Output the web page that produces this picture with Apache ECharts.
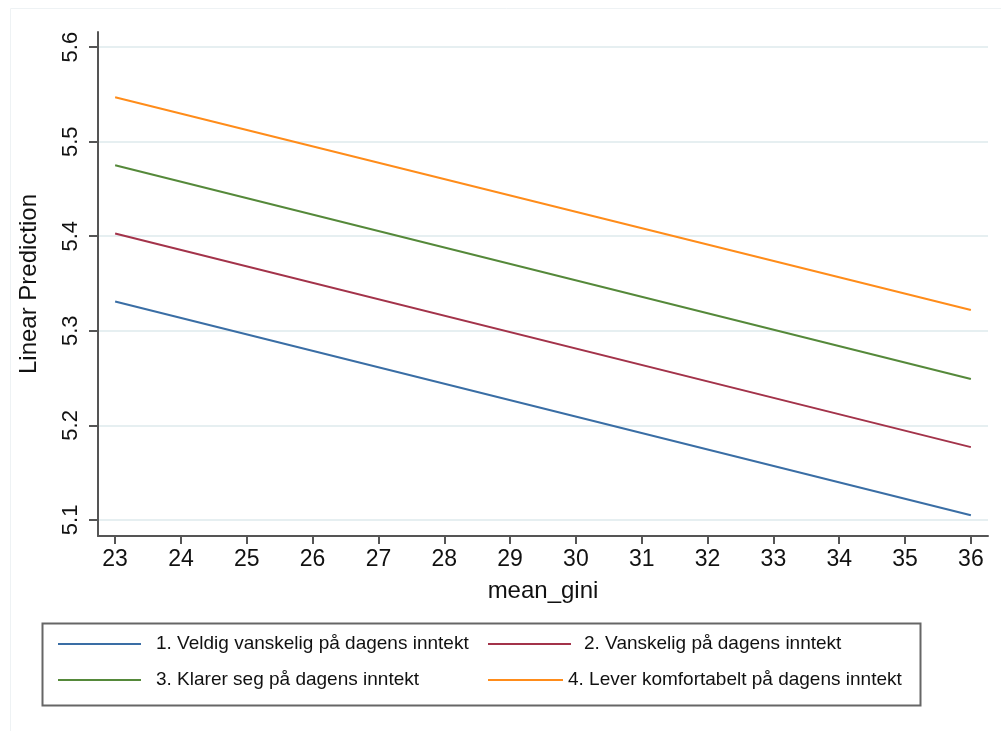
<!DOCTYPE html>
<html>
<head>
<meta charset="utf-8">
<script src="https://cdn.jsdelivr.net/npm/echarts@6/dist/echarts.min.js"></script>
<style>
html,body{margin:0;padding:0;background:#fff;}
#chart{width:1001px;height:731px;}
</style>
</head>
<body>
<div id="chart"></div>
<script>
const xValues = [23, 36];
const xTicks = [23,24,25,26,27,28,29,30,31,32,33,34,35,36];
const yTicks = [5.1,5.2,5.3,5.4,5.5,5.6];
const seriesNames = [
  '1. Veldig vanskelig på dagens inntekt',
  '2. Vanskelig på dagens inntekt',
  '3. Klarer seg på dagens inntekt',
  '4. Lever komfortabelt på dagens inntekt'
];
const veryDifficult = [5.331, 5.105];
const difficult = [5.403, 5.177];
const coping = [5.475, 5.249];
const comfortable = [5.547, 5.322];
const colors = ['#3a6ea5', '#a3334a', '#55893a', '#ff8c1a'];

const allValues = [veryDifficult, difficult, coping, comfortable];
const FONT = 'Liberation Sans';

const chart = echarts.init(document.getElementById('chart'));

function legendItem(idx, left, top, width, pad) {
  return {
    show: true,
    data: [seriesNames[idx]],
    left: left, top: top,
    padding: 0,
    icon: 'rect',
    itemWidth: width,
    itemHeight: 2,
    selectedMode: false,
    textStyle: {fontFamily: FONT, fontSize: 19, color: '#111', lineHeight: 22, padding: [0,0,0,pad]}
  };
}

chart.setOption({
  animation: false,
  backgroundColor: '#fff',
  color: colors,
  grid: {left: 98, right: 13, top: 32, bottom: 195, containLabel: false},
  xAxis: {
    type: 'value',
    min: 22.74, max: 36.26,
    name: 'mean_gini',
    nameLocation: 'middle',
    nameGap: 43,
    nameTextStyle: {fontFamily: FONT, fontSize: 24, color: '#111'},
    axisLine: {show: true, lineStyle: {color: '#555', width: 2}},
    axisTick: {show: true, length: 8, lineStyle: {color: '#555', width: 2}, customValues: xTicks},
    axisLabel: {fontFamily: FONT, fontSize: 23, color: '#111', margin: 12, customValues: xTicks},
    splitLine: {show: false}
  },
  yAxis: {
    type: 'value',
    min: 5.083, max: 5.616,
    name: 'Linear Prediction',
    nameLocation: 'middle',
    nameRotate: 90,
    nameGap: 57,
    nameTextStyle: {fontFamily: FONT, fontSize: 24, color: '#111'},
    axisLine: {show: true, lineStyle: {color: '#555', width: 2}},
    axisTick: {show: true, length: 9, lineStyle: {color: '#555', width: 2}, customValues: yTicks},
    axisLabel: {fontFamily: FONT, fontSize: 22, color: '#111', rotate: 90, margin: 16, customValues: yTicks,
      formatter: v => v.toFixed(1)},
    splitLine: {show: true, lineStyle: {color: '#e6eff1', width: 2}}
  },
  legend: [
    legendItem(0, 58, 633, 83, 10),
    legendItem(1, 488, 633, 83, 8),
    legendItem(2, 58, 669, 83, 10),
    legendItem(3, 488, 669, 75, 0)
  ],
  graphic: [
    {type: 'rect', left: 8, top: 6, shape: {width: 993, height: 725}, style: {fill: 'none', stroke: '#eef2f4', lineWidth: 1}, silent: true, z: -1},
    {type: 'rect', left: 40, top: 621, shape: {width: 878, height: 82}, style: {fill: 'none', stroke: '#666', lineWidth: 2}, silent: true}
  ],
  series: allValues.map((vals, i) => ({
    name: seriesNames[i],
    type: 'line',
    data: xValues.map((x, j) => [x, vals[j]]),
    symbol: 'none',
    lineStyle: {width: 2, color: colors[i]},
    itemStyle: {color: colors[i]}
  }))
});
</script>
</body>
</html>
